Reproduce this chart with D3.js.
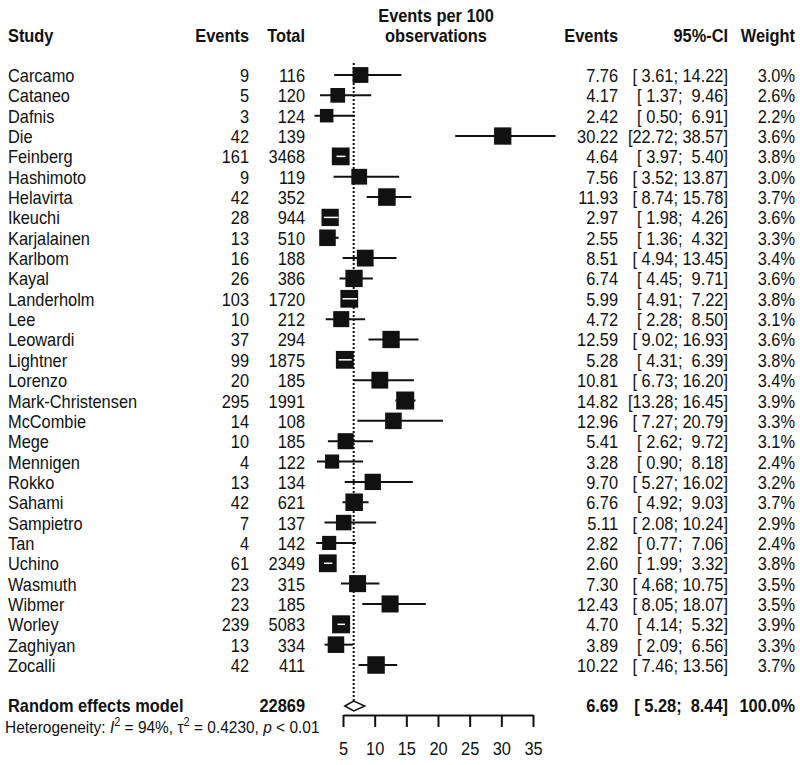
<!DOCTYPE html>
<html>
<head>
<meta charset="utf-8">
<script src="https://cdn.jsdelivr.net/npm/d3@7"></script>
<style>
  html, body { margin: 0; padding: 0; background: #fff; }
  svg text { font-family: "Liberation Sans", Arial, Helvetica, sans-serif; fill: #111; white-space: pre; }
</style>
</head>
<body>
<svg id="chart" width="800" height="765"></svg>
<script>
const studies = ["Carcamo","Cataneo","Dafnis","Die","Feinberg","Hashimoto","Helavirta","Ikeuchi","Karjalainen","Karlbom","Kayal","Landerholm","Lee","Leowardi","Lightner","Lorenzo","Mark-Christensen","McCombie","Mege","Mennigen","Rokko","Sahami","Sampietro","Tan","Uchino","Wasmuth","Wibmer","Worley","Zaghiyan","Zocalli"];
const events = [9,5,3,42,161,9,42,28,13,16,26,103,10,37,99,20,295,14,10,4,13,42,7,4,61,23,23,239,13,42];
const totals = [116,120,124,139,3468,119,352,944,510,188,386,1720,212,294,1875,185,1991,108,185,122,134,621,137,142,2349,315,185,5083,334,411];
const rates = [7.76,4.17,2.42,30.22,4.64,7.56,11.93,2.97,2.55,8.51,6.74,5.99,4.72,12.59,5.28,10.81,14.82,12.96,5.41,3.28,9.70,6.76,5.11,2.82,2.60,7.30,12.43,4.70,3.89,10.22];
const lower = [3.61,1.37,0.50,22.72,3.97,3.52,8.74,1.98,1.36,4.94,4.45,4.91,2.28,9.02,4.31,6.73,13.28,7.27,2.62,0.90,5.27,4.92,2.08,0.77,1.99,4.68,8.05,4.14,2.09,7.46];
const upper = [14.22,9.46,6.91,38.57,5.40,13.87,15.78,4.26,4.32,13.45,9.71,7.22,8.50,16.93,6.39,16.20,16.45,20.79,9.72,8.18,16.02,9.03,10.24,7.06,3.32,10.75,18.07,5.32,6.56,13.56];
const weights = [3.0,2.6,2.2,3.6,3.8,3.0,3.7,3.6,3.3,3.4,3.6,3.8,3.1,3.6,3.8,3.4,3.9,3.3,3.1,2.4,3.2,3.7,2.9,2.4,3.8,3.5,3.5,3.9,3.3,3.7];
const pooledEst = [6.69, 5.28, 8.44];
const pooledTotal = 22869;
const pooledWeight = "100.0%";
const xTicks = [5,10,15,20,25,30,35];
const hetero = { I2: "94%", tau2: "0.4230", p: "< 0.01" };

const svg = d3.select("#chart");
const FS = 18, SX = 0.91;

function txt(x, y, s, opts = {}) {
  const g = svg.append("g").attr("transform", `translate(${x},${y}) scale(${SX},1)`);
  const t = g.append("text")
    .attr("text-anchor", opts.anchor || "start")
    .style("font-size", (opts.size || FS) + "px")
    .style("font-weight", opts.bold ? "bold" : "normal")
    .text(s);
  return t;
}

const x = d3.scaleLinear().domain([5, 35]).range([343, 533]);
const y = d3.scalePoint().domain(studies).range([75, 665]);
const side = d3.scaleSqrt().domain([0, 3.9]).range([0, 18]);
const yPooled = 706;
const yAxis = 715;

// pad to width like R's format
const fmt2 = v => v.toFixed(2);
const wL = d3.max(lower.concat([pooledEst[1]]), v => fmt2(v).length);
const wU = d3.max(upper.concat([pooledEst[2]]), v => fmt2(v).length);
const pad = (s, w) => " ".repeat(Math.max(0, w - s.length)) + s;
const ciStr = (l, u) => "[" + pad(fmt2(l), wL) + "; " + pad(fmt2(u), wU) + "]";

// headers
txt(8, 42, "Study", { bold: true });
txt(249, 42, "Events", { bold: true, anchor: "end" });
txt(305, 42, "Total", { bold: true, anchor: "end" });
txt(436, 22, "Events per 100", { bold: true, anchor: "middle" });
txt(436, 42, "observations", { bold: true, anchor: "middle" });
txt(618, 42, "Events", { bold: true, anchor: "end" });
txt(728, 42, "95%-CI", { bold: true, anchor: "end" });
txt(795, 42, "Weight", { bold: true, anchor: "end" });

// reference dotted line
svg.append("line")
  .attr("x1", x(pooledEst[0])).attr("x2", x(pooledEst[0]))
  .attr("y1", 63).attr("y2", yPooled - 5)
  .attr("stroke", "#111").attr("stroke-width", 2)
  .attr("stroke-dasharray", "2,2");

// study rows
studies.forEach((s, i) => {
  const yy = y(s);
  const bs = side(weights[i]);
  const cx = x(rates[i]);
  const x1 = x(lower[i]), x2 = x(upper[i]);
  const inside = x1 >= cx - bs / 2 && x2 <= cx + bs / 2;
  svg.append("line").attr("x1", x1).attr("x2", x2).attr("y1", yy).attr("y2", yy)
    .attr("stroke", "#111").attr("stroke-width", 2);
  svg.append("rect").attr("x", cx - bs / 2).attr("y", yy - bs / 2)
    .attr("width", bs).attr("height", bs).attr("fill", "#111");
  if (inside) {
    svg.append("line").attr("x1", x1).attr("x2", x2).attr("y1", yy).attr("y2", yy)
      .attr("stroke", "#fff").attr("stroke-width", 1.5);
  }
  const by = yy + 7;
  txt(8, by, s);
  txt(249, by, String(events[i]), { anchor: "end" });
  txt(305, by, String(totals[i]), { anchor: "end" });
  txt(618, by, fmt2(rates[i]), { anchor: "end" });
  txt(728, by, ciStr(lower[i], upper[i]), { anchor: "end" });
  txt(795, by, weights[i].toFixed(1) + "%", { anchor: "end" });
});

// pooled diamond
const dx = [x(pooledEst[1]), x(pooledEst[0]), x(pooledEst[2])];
svg.append("path")
  .attr("d", `M${dx[0]},${yPooled} L${dx[1]},${yPooled - 5} L${dx[2]},${yPooled} L${dx[1]},${yPooled + 5} Z`)
  .attr("fill", "#fff").attr("stroke", "#111").attr("stroke-width", 1.5);

const by0 = yPooled + 6;
txt(8, by0, "Random effects model", { bold: true });
txt(305, by0, String(pooledTotal), { bold: true, anchor: "end" });
txt(618, by0, fmt2(pooledEst[0]), { bold: true, anchor: "end" });
txt(728, by0, ciStr(pooledEst[1], pooledEst[2]), { bold: true, anchor: "end" });
txt(795, by0, pooledWeight, { bold: true, anchor: "end" });

// heterogeneity
const ht = txt(5, 733, "", { size: 17 });
ht.append("tspan").text("Heterogeneity: ");
ht.append("tspan").style("font-style", "italic").text("I");
ht.append("tspan").attr("dy", -7).style("font-size", "12px").text("2");
ht.append("tspan").attr("dy", 7).text(" = " + hetero.I2 + ", τ");
ht.append("tspan").attr("dy", -7).style("font-size", "12px").text("2");
ht.append("tspan").attr("dy", 7).text(" = " + hetero.tau2 + ", ");
ht.append("tspan").style("font-style", "italic").text("p");
ht.append("tspan").text(" " + hetero.p);

// axis
const ax = svg.append("g").attr("transform", `translate(0,${yAxis})`)
  .call(d3.axisBottom(x).tickValues(xTicks).tickSize(12).tickSizeOuter(0).tickPadding(15));
ax.select(".domain").attr("stroke", "#111").attr("stroke-width", 2);
ax.selectAll(".tick line").attr("stroke", "#111").attr("stroke-width", 2);
ax.selectAll(".tick text")
  .style("font-size", FS + "px")
  .style("font-family", "'Liberation Sans', Arial, sans-serif")
  .attr("fill", "#111")
  .attr("transform", `scale(${SX},1)`);
</script>
</body>
</html>
